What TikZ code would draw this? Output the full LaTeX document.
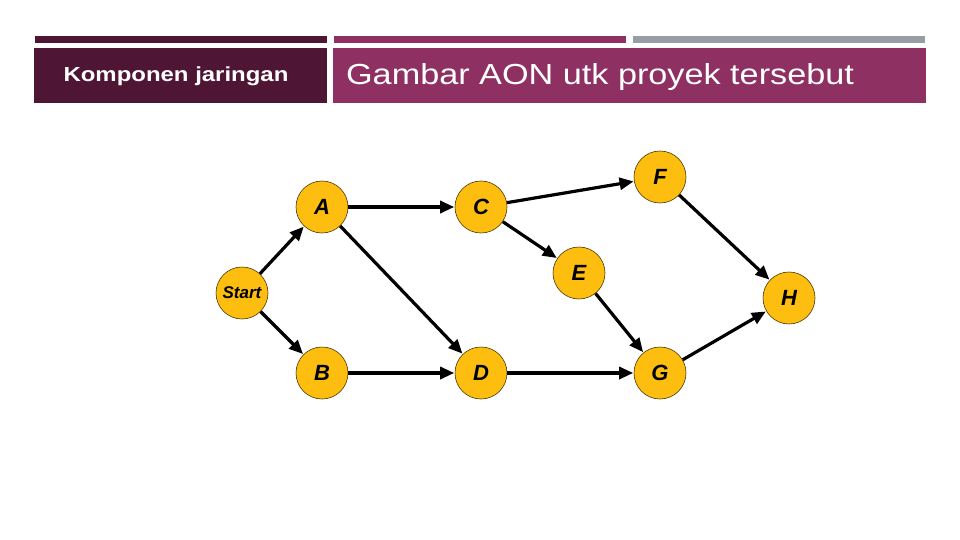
\documentclass[tikz,border=0pt]{standalone}
\usepackage{fontspec}
\setmainfont{Liberation Sans}
\newfontfamily\widesans[FakeStretch=1.18]{Liberation Sans}
\usetikzlibrary{arrows.meta}
\definecolor{aondark}{HTML}{4E1634}
\definecolor{aonplum}{HTML}{8E3162}
\definecolor{aongray}{HTML}{979DA4}
\definecolor{aonnode}{HTML}{FDBE10}

\begin{document}
\begin{tikzpicture}[
    x=1pt, y=-1pt,
    every node/.style={font=\fontsize{20}{24}\selectfont},
    act/.style={circle, draw=black!70!aonnode, line width=0.6pt, fill=aonnode,
      minimum size=52pt, inner sep=0pt, font=\fontsize{22}{26}\selectfont\bfseries\itshape},
    link/.style={line width=3.2pt, -{Triangle[length=14pt,width=12pt]}, shorten >=0.5pt},
  ]
  \useasboundingbox (0,0) rectangle (960,540);

  % Header bars
  \fill[aondark] (35,36) rectangle (327,43);
  \fill[aonplum] (334,36) rectangle (626,43);
  \fill[aongray] (633,36) rectangle (925,43);
  \fill[aondark] (34,48) rectangle (327,103);
  \fill[aonplum] (333,48) rectangle (926,103);
  \node[white, anchor=base, font=\widesans\fontsize{20.3}{24}\selectfont\bfseries] (sub) at (176,82) {Komponen jaringan};
  \node[white, anchor=base, font=\widesans\fontsize{29}{34}\selectfont] (title) at (600,85) {Gambar AON utk proyek tersebut};

  % Activities
  \node[act, font=\fontsize{17}{20}\selectfont\bfseries\itshape] (start) at (242,293) {Start};
  \node[act] (a) at (322,207) {A};
  \node[act] (b) at (322,373) {B};
  \node[act] (c) at (481,207) {C};
  \node[act] (d) at (481,373) {D};
  \node[act] (e) at (579,273) {E};
  \node[act] (f) at (660,177) {F};
  \node[act] (g) at (660,373) {G};
  \node[act] (h) at (789,298) {H};

  % Precedence
  \foreach \u/\v in {start/a, start/b, a/c, a/d, b/d, c/f, c/e, d/g, e/g, f/h, g/h} {
    \draw[link] (\u) -- (\v);
  }
\end{tikzpicture}
\end{document}
